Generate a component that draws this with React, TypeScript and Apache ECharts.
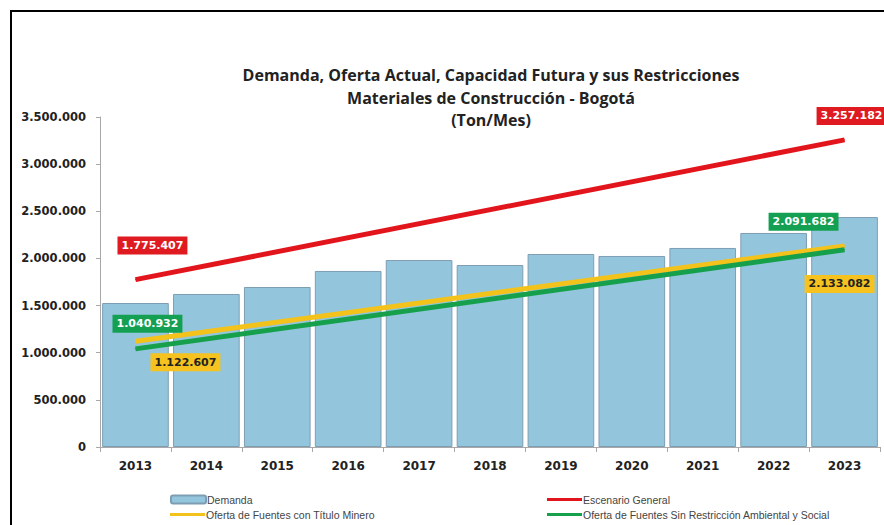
import React, { useEffect, useRef } from "react";
import * as echarts from "echarts";

const years = ["2013", "2014", "2015", "2016", "2017", "2018", "2019", "2020", "2021", "2022", "2023"];
const demanda = [1527000, 1623000, 1697000, 1867000, 1983000, 1930000, 2047000, 2026000, 2111000, 2270000, 2439000];
const escenarioGeneral = [1775407, null, null, null, null, null, null, null, null, null, 3257182];
const ofertaTitulo = [1122607, null, null, null, null, null, null, null, null, null, 2133082];
const ofertaSinRestriccion = [1040932, null, null, null, null, null, null, null, null, null, 2091682];
const yTicks = { min: 0, max: 3500000, interval: 500000 };

const titleText = "Demanda, Oferta Actual, Capacidad Futura y sus Restricciones\nMateriales de Construcción - Bogotá\n(Ton/Mes)";

const fmt = (v: number) => Math.round(v).toString().replace(/\B(?=(\d{3})+(?!\d))/g, ".");

const RED = "#e3151c";
const YELLOW = "#f3c21b";
const GREEN = "#17a04c";
const LINE_ICON = "path://M0,0H35V3H0Z";

function withLabels(values: (number | null)[], labels: Record<number, any>) {
  return values.map((v, i) => {
    if (v === null) return null;
    const lab = labels[i];
    return lab ? { value: v, label: lab } : v;
  });
}

function boxLabel(bg: string, color: string, offset: [number, number]) {
  return {
    show: true,
    position: "inside",
    offset,
    formatter: (p: any) => fmt(p.value),
    backgroundColor: bg,
    color,
    padding: [4, 4, 3, 4],
    fontFamily: "DejaVu Sans",
    fontWeight: "bold",
    fontSize: 11,
  };
}

function legendItem(name: string, left: number, top: number, icon?: string) {
  return {
    left,
    top,
    itemWidth: 35,
    itemHeight: 8,
    itemGap: 0,
    textStyle: { fontFamily: "Liberation Sans", fontSize: 10.5, color: "#444", padding: [0, 0, 0, -4] },
    data: [icon ? { name, icon } : { name }],
  };
}

export default function App() {
  const ref = useRef<HTMLDivElement>(null);
  useEffect(() => {
    if (!ref.current) return;
    const chart = echarts.init(ref.current, null, { renderer: "svg" });
    chart.setOption({
      animation: false,
      backgroundColor: "#ffffff",
      title: {
        text: titleText,
        left: 486,
        top: 59,
        textAlign: "center",
        textStyle: {
          fontFamily: "Open Sans",
          fontWeight: "bold",
          fontSize: 16,
          lineHeight: 22.5,
          color: "#222",
        },
      },
      graphic: [
        { type: "line", shape: { x1: 11, y1: 11, x2: 884, y2: 11 }, style: { stroke: "#000", lineWidth: 2 } },
        { type: "line", shape: { x1: 11, y1: 10, x2: 11, y2: 525 }, style: { stroke: "#000", lineWidth: 2 } },
      ],
      legend: [
        legendItem("Demanda", 165, 489),
        legendItem("Oferta de Fuentes con Título Minero", 165, 504, LINE_ICON),
        legendItem("Escenario General", 542, 489, LINE_ICON),
        legendItem("Oferta de Fuentes Sin Restricción Ambiental y Social", 542, 504, LINE_ICON),
      ],
      grid: { left: 100, right: 4, top: 117, bottom: 78 },
      xAxis: {
        type: "category",
        data: years,
        axisLine: { lineStyle: { color: "#a8a8a8" } },
        axisTick: { show: true, length: 5, lineStyle: { color: "#a8a8a8" } },
        axisLabel: { fontFamily: "DejaVu Sans", fontWeight: "bold", fontSize: 12, color: "#222", margin: 13 },
      },
      yAxis: {
        type: "value",
        min: yTicks.min,
        max: yTicks.max,
        interval: yTicks.interval,
        splitLine: { show: false },
        axisLine: { show: true, lineStyle: { color: "#a8a8a8" } },
        axisTick: { show: true, length: 4, lineStyle: { color: "#a8a8a8" } },
        axisLabel: {
          fontFamily: "DejaVu Sans",
          fontWeight: "bold",
          fontSize: 11.5,
          color: "#222",
          margin: 14,
          formatter: (v: number) => fmt(v),
        },
      },
      series: [
        {
          name: "Demanda",
          type: "bar",
          data: demanda,
          barCategoryGap: "6%",
          itemStyle: { color: "#93c6dc", borderColor: "#7f9db2", borderWidth: 1 },
        },
        {
          name: "Escenario General",
          type: "line",
          data: withLabels(escenarioGeneral, {
            0: boxLabel("#e01a21", "#fff", [17, -34]),
            10: boxLabel("#e01a21", "#fff", [7, -24]),
          }),
          connectNulls: true,
          symbol: "circle",
          symbolSize: 1,
          color: RED,
          lineStyle: { width: 5, color: RED },
          z: 3,
        },
        {
          name: "Oferta de Fuentes con Título Minero",
          type: "line",
          data: withLabels(ofertaTitulo, {
            0: boxLabel("#f5c21f", "#222", [50, 21]),
            10: boxLabel("#f5c21f", "#222", [-5, 38]),
          }),
          connectNulls: true,
          symbol: "circle",
          symbolSize: 1,
          color: YELLOW,
          lineStyle: { width: 5, color: YELLOW },
          z: 3,
        },
        {
          name: "Oferta de Fuentes Sin Restricción Ambiental y Social",
          type: "line",
          data: withLabels(ofertaSinRestriccion, {
            0: boxLabel("#14a052", "#fff", [12, -25]),
            10: boxLabel("#14a052", "#fff", [-41, -28]),
          }),
          connectNulls: true,
          symbol: "circle",
          symbolSize: 1,
          color: GREEN,
          lineStyle: { width: 5, color: GREEN },
          z: 4,
        },
      ],
    });
    return () => chart.dispose();
  }, []);
  return (
    <div
      ref={ref}
      style={{ position: "fixed", left: 0, top: 0, width: 884, height: 525, background: "#fff" }}
    />
  );
}
